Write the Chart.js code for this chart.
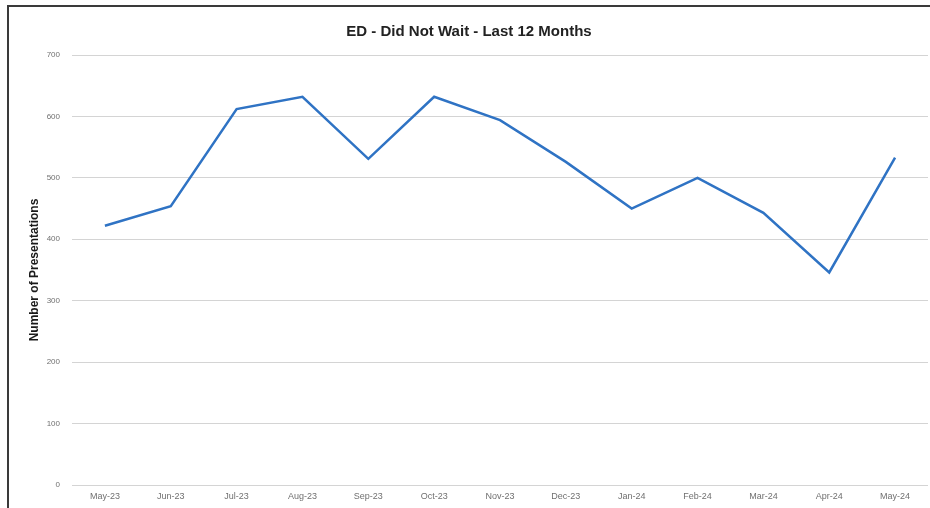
<!DOCTYPE html>
<html>
<head>
<meta charset="utf-8">
<script src="https://cdn.jsdelivr.net/npm/chart.js@4.4.1/dist/chart.umd.min.js"></script>
<style>
  html, body { margin: 0; padding: 0; background: #fff; }
  #wrap { position: relative; width: 930px; height: 508px; }
  #frame { position: absolute; left: 7px; top: 5px; width: 923px; height: 503px;
           border-left: 2px solid #3a3a3a; border-top: 2px solid #3a3a3a; box-sizing: border-box; }
  canvas { position: absolute; left: 0; top: 0; }
</style>
</head>
<body>
<div id="wrap">
  <canvas id="dnw" width="930" height="508"></canvas>
  <div id="frame"></div>
</div>
<script>
const months = ['May-23', 'Jun-23', 'Jul-23', 'Aug-23', 'Sep-23', 'Oct-23', 'Nov-23',
                'Dec-23', 'Jan-24', 'Feb-24', 'Mar-24', 'Apr-24', 'May-24'];
const presentations = [422, 454, 612, 632, 531, 632, 594, 526, 450, 500, 443, 346, 533];
const yTicks = [0, 100, 200, 300, 400, 500, 600, 700];

const labelFont = "'Liberation Sans', 'DejaVu Sans', sans-serif";

new Chart(document.getElementById('dnw'), {
    type: 'line',
    data: {
        labels: months,
        datasets: [{
            label: 'Did Not Wait',
            data: presentations,
            borderColor: '#2f73c4',
            borderWidth: 2.5,
            pointRadius: 0,
            tension: 0,
            fill: false
        }]
    },
    options: {
        responsive: false,
        animation: false,
        layout: { padding: { left: 10, right: 2, top: 12, bottom: 0 } },
        plugins: {
            legend: { display: false },
            tooltip: { enabled: false },
            title: {
                display: true,
                text: 'ED - Did Not Wait - Last 12 Months',
                color: '#222',
                font: { family: labelFont, size: 15, weight: 'bold' },
                padding: { top: 11, bottom: 14 }
            }
        },
        scales: {
            x: {
                offset: true,
                grid: { display: false, drawTicks: false },
                border: { display: false },
                ticks: {
                    color: '#707070',
                    font: { family: labelFont, size: 9 },
                    padding: 6,
                    maxRotation: 0,
                    autoSkip: false
                },
                afterFit: s => { s.height = 23; }
            },
            y: {
                min: 0,
                max: 700,
                afterBuildTicks: s => { s.ticks = yTicks.map(v => ({ value: v })); },
                grid: { color: '#d4d4d4', lineWidth: 1, drawTicks: false },
                border: { display: false },
                ticks: {
                    color: '#707070',
                    font: { family: labelFont, size: 8 },
                    padding: 12
                },
                title: {
                    display: true,
                    text: 'Number of Presentations',
                    color: '#1a1a1a',
                    font: { family: labelFont, size: 12, weight: 'bold' },
                    padding: { top: 17, bottom: 0 }
                },
                afterFit: s => { s.width = 62; }
            }
        }
    }
});
</script>
</body>
</html>
